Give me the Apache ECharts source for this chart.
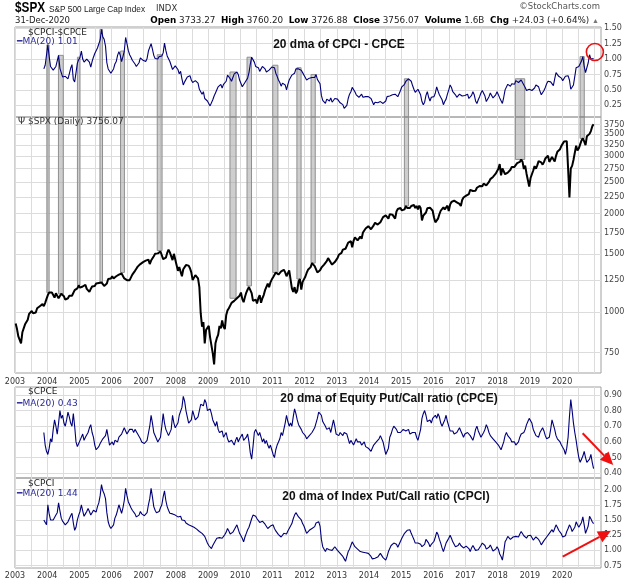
<!DOCTYPE html>
<html>
<head>
<meta charset="utf-8">
<script src="https://cdn.jsdelivr.net/npm/echarts@6/dist/echarts.min.js"></script>
<style>
html, body { margin: 0; padding: 0; background: #fff; }
#main { width: 640px; height: 584px; }
</style>
</head>
<body>
<div id="main"></div>
<script>
// readings taken twice a month (2nd and 4th week), off the picture
var firstYear = 2003;
var ratioOffset = 21; // put/call series start in late Nov 2003

// S&P 500, Jan 2003 .. Dec 2020
var spxValues = [
  920, 885, 840, 835, 800, 865, 875, 915, 925, 945, 985, 985, 1005, 990, 980, 995, 1025, 1020, 1040, 1035, 1055, 1040, 1065, 1095,
  1125, 1145, 1140, 1145, 1125, 1105, 1140, 1135, 1100, 1110, 1135, 1135, 1115, 1090, 1075, 1100, 1120, 1115, 1120, 1110, 1165, 1175, 1180, 1205,
  1185, 1170, 1195, 1200, 1210, 1175, 1180, 1150, 1175, 1195, 1195, 1200, 1220, 1235, 1225, 1210, 1230, 1220, 1200, 1185, 1220, 1260, 1260, 1265,
  1285, 1265, 1260, 1285, 1275, 1300, 1295, 1310, 1320, 1265, 1255, 1250, 1265, 1250, 1275, 1300, 1300, 1335, 1355, 1375, 1380, 1400, 1410, 1420,
  1410, 1435, 1450, 1445, 1400, 1435, 1445, 1480, 1505, 1510, 1510, 1500, 1530, 1540, 1450, 1470, 1465, 1515, 1550, 1520, 1500, 1440, 1505, 1490,
  1390, 1335, 1370, 1355, 1285, 1350, 1360, 1390, 1395, 1385, 1360, 1320, 1250, 1260, 1295, 1290, 1265, 1190, 990, 900, 930, 800, 880, 880,
  905, 835, 845, 745, 690, 800, 830, 850, 905, 890, 940, 900, 885, 975, 1010, 1025, 1020, 1065, 1060, 1080, 1070, 1100, 1100, 1120,
  1145, 1095, 1070, 1110, 1145, 1170, 1190, 1200, 1140, 1080, 1065, 1090, 1060, 1100, 1125, 1065, 1100, 1125, 1165, 1180, 1220, 1190, 1230, 1255,
  1275, 1290, 1320, 1320, 1300, 1295, 1330, 1335, 1345, 1320, 1285, 1285, 1340, 1340, 1180, 1150, 1190, 1140, 1160, 1240, 1260, 1170, 1235, 1250,
  1280, 1315, 1345, 1360, 1370, 1410, 1395, 1380, 1370, 1320, 1325, 1340, 1365, 1360, 1395, 1405, 1430, 1460, 1445, 1415, 1395, 1385, 1420, 1430,
  1460, 1495, 1510, 1515, 1550, 1555, 1560, 1575, 1630, 1650, 1645, 1575, 1650, 1690, 1700, 1655, 1670, 1700, 1675, 1750, 1770, 1800, 1800, 1830,
  1840, 1790, 1780, 1840, 1875, 1865, 1850, 1875, 1880, 1900, 1950, 1960, 1975, 1985, 1930, 1990, 2000, 1985, 1965, 1930, 2030, 2065, 2060, 2080,
  2045, 2050, 2060, 2110, 2080, 2090, 2080, 2110, 2105, 2125, 2080, 2110, 2060, 2115, 2080, 1905, 1970, 1950, 2015, 2075, 2100, 2085, 2065, 2040,
  1945, 1880, 1855, 1930, 1990, 2040, 2045, 2090, 2060, 2050, 2115, 2035, 2130, 2170, 2180, 2190, 2185, 2165, 2155, 2140, 2110, 2200, 2240, 2265,
  2270, 2275, 2295, 2365, 2365, 2345, 2355, 2350, 2400, 2415, 2430, 2435, 2425, 2470, 2475, 2440, 2465, 2500, 2550, 2565, 2590, 2600, 2650, 2685,
  2745, 2835, 2620, 2750, 2780, 2640, 2620, 2670, 2700, 2725, 2780, 2750, 2780, 2810, 2855, 2860, 2880, 2930, 2885, 2740, 2805, 2650, 2635, 2420,
  2570, 2640, 2710, 2795, 2745, 2810, 2895, 2935, 2870, 2825, 2875, 2950, 2980, 3010, 2880, 2850, 2980, 2985, 2890, 3005, 3095, 3110, 3150, 3225,
  3255, 3325, 3330, 3335, 2750, 2240, 2750, 2800, 2920, 2955, 3230, 3120, 3170, 3260, 3350, 3400, 3330, 3240, 3450, 3450, 3510, 3580, 3700, 3756
];

// 20 dma equity put/call (CPCE), late 2003 .. Dec 2020
var cpceValues = [
  0.66, 0.58, 0.54,
  0.52, 0.56, 0.62, 0.60, 0.68, 0.74, 0.70, 0.65, 0.72, 0.80, 0.75, 0.77, 0.72, 0.70, 0.74, 0.79, 0.76, 0.72, 0.70, 0.78, 0.70, 0.60, 0.57, 0.59,
  0.61, 0.62, 0.65, 0.61, 0.63, 0.64, 0.66, 0.69, 0.71, 0.66, 0.63, 0.58, 0.55, 0.54, 0.57, 0.59, 0.60, 0.62, 0.61, 0.64, 0.68, 0.63, 0.58, 0.59,
  0.60, 0.58, 0.61, 0.62, 0.60, 0.63, 0.62, 0.65, 0.66, 0.69, 0.67, 0.65, 0.66, 0.68, 0.67, 0.68, 0.66, 0.68, 0.67, 0.65, 0.64, 0.62, 0.60, 0.59,
  0.59, 0.60, 0.61, 0.62, 0.70, 0.77, 0.72, 0.66, 0.65, 0.62, 0.60, 0.60, 0.63, 0.70, 0.78, 0.72, 0.68, 0.67, 0.64, 0.65, 0.68, 0.77, 0.72, 0.69,
  0.69, 0.72, 0.77, 0.76, 0.82, 0.89, 0.86, 0.80, 0.76, 0.72, 0.71, 0.74, 0.80, 0.79, 0.74, 0.73, 0.76, 0.80, 0.84, 0.85, 0.83, 0.87, 0.85, 0.80,
  0.79, 0.81, 0.78, 0.74, 0.72, 0.70, 0.73, 0.68, 0.66, 0.65, 0.67, 0.63, 0.64, 0.66, 0.62, 0.60, 0.59, 0.61, 0.60, 0.58, 0.61, 0.63, 0.60, 0.62,
  0.62, 0.65, 0.61, 0.60, 0.63, 0.65, 0.60, 0.53, 0.49, 0.57, 0.66, 0.68, 0.66, 0.64, 0.66, 0.63, 0.60, 0.62, 0.59, 0.61, 0.58, 0.56, 0.58, 0.55,
  0.52, 0.50, 0.55, 0.58, 0.60, 0.62, 0.66, 0.64, 0.68, 0.72, 0.77, 0.73, 0.70, 0.72, 0.70, 0.76, 0.81, 0.78, 0.74, 0.71, 0.72, 0.68, 0.66, 0.65,
  0.64, 0.62, 0.63, 0.64, 0.63, 0.66, 0.65, 0.69, 0.70, 0.75, 0.79, 0.80, 0.77, 0.73, 0.72, 0.70, 0.68, 0.67, 0.69, 0.66, 0.70, 0.74, 0.70, 0.65,
  0.65, 0.64, 0.66, 0.66, 0.64, 0.66, 0.65, 0.65, 0.62, 0.59, 0.61, 0.60, 0.58, 0.59, 0.62, 0.60, 0.61, 0.60, 0.58, 0.59, 0.60, 0.57, 0.58, 0.56,
  0.56, 0.54, 0.55, 0.58, 0.57, 0.60, 0.60, 0.62, 0.64, 0.65, 0.60, 0.56, 0.52, 0.51, 0.56, 0.63, 0.65, 0.68, 0.70, 0.71, 0.68, 0.66, 0.67, 0.66,
  0.65, 0.68, 0.69, 0.67, 0.66, 0.68, 0.65, 0.64, 0.66, 0.67, 0.66, 0.63, 0.61, 0.62, 0.68, 0.75, 0.78, 0.80, 0.77, 0.73, 0.74, 0.74, 0.72, 0.75,
  0.76, 0.77, 0.75, 0.78, 0.76, 0.72, 0.70, 0.72, 0.74, 0.77, 0.73, 0.70, 0.67, 0.66, 0.67, 0.65, 0.64, 0.66, 0.67, 0.69, 0.67, 0.65, 0.63, 0.65,
  0.64, 0.66, 0.67, 0.64, 0.63, 0.61, 0.64, 0.68, 0.70, 0.67, 0.65, 0.63, 0.63, 0.66, 0.68, 0.71, 0.69, 0.66, 0.64, 0.63, 0.62, 0.61, 0.60, 0.59,
  0.58, 0.57, 0.55, 0.56, 0.60, 0.64, 0.66, 0.64, 0.63, 0.62, 0.60, 0.59, 0.60, 0.58, 0.57, 0.60, 0.63, 0.65, 0.64, 0.66, 0.68, 0.71, 0.73, 0.75,
  0.75, 0.72, 0.68, 0.66, 0.64, 0.63, 0.63, 0.66, 0.67, 0.69, 0.67, 0.64, 0.62, 0.61, 0.63, 0.68, 0.74, 0.73, 0.68, 0.64, 0.62, 0.61, 0.60, 0.58,
  0.57, 0.55, 0.52, 0.56, 0.63, 0.76, 0.87, 0.80, 0.72, 0.66, 0.61, 0.55, 0.50, 0.47, 0.49, 0.51, 0.54, 0.50, 0.47, 0.46, 0.49, 0.52, 0.47, 0.43
];

// 20 dma index put/call (CPCI), same dates
var cpciValues = [
  1.50, 1.48, 1.42,
  1.75, 1.60, 1.50, 1.47, 1.50, 1.53, 1.58, 1.62, 1.78, 1.65, 1.53, 1.48, 1.45, 1.42, 1.44, 1.47, 1.52, 1.57, 1.61, 1.45, 1.33, 1.38, 1.50, 1.58,
  1.64, 1.75, 1.65, 1.56, 1.60, 1.64, 1.69, 1.64, 1.58, 1.62, 1.66, 1.67, 1.63, 1.72, 1.78, 1.90, 2.08, 1.98, 1.93, 1.85, 1.62, 1.47, 1.40, 1.36,
  1.35, 1.42, 1.53, 1.58, 1.66, 1.75, 1.68, 1.61, 1.70, 1.82, 2.02, 1.90, 1.80, 1.75, 1.70, 1.66, 1.64, 1.60, 1.55, 1.53, 1.58, 1.64, 1.60, 1.57,
  1.57, 1.56, 1.62, 1.75, 1.85, 2.02, 1.88, 1.72, 1.66, 1.62, 1.60, 1.64, 1.70, 1.75, 1.88, 1.98, 1.82, 1.72, 1.66, 1.61, 1.63, 1.60, 1.57, 1.58,
  1.60, 1.55, 1.53, 1.56, 1.50, 1.47, 1.49, 1.45, 1.47, 1.42, 1.44, 1.40, 1.42, 1.38, 1.39, 1.35, 1.37, 1.31, 1.34, 1.28, 1.30, 1.23, 1.20, 1.12,
  1.08, 1.05, 1.03, 1.08, 1.12, 1.15, 1.20, 1.23, 1.21, 1.24, 1.20, 1.22, 1.26, 1.30, 1.36, 1.32, 1.27, 1.25, 1.30, 1.34, 1.38, 1.42, 1.35, 1.28,
  1.25, 1.20, 1.14, 1.22, 1.28, 1.34, 1.38, 1.45, 1.52, 1.58, 1.61, 1.56, 1.52, 1.50, 1.46, 1.44, 1.48, 1.47, 1.43, 1.40, 1.36, 1.38, 1.40, 1.42,
  1.42, 1.36, 1.32, 1.30, 1.26, 1.24, 1.22, 1.25, 1.28, 1.30, 1.27, 1.32, 1.36, 1.40, 1.44, 1.52, 1.58, 1.62, 1.60, 1.55, 1.58, 1.50, 1.44, 1.40,
  1.34, 1.28, 1.30, 1.33, 1.31, 1.36, 1.34, 1.39, 1.45, 1.42, 1.47, 1.40, 1.18, 1.06, 1.02, 0.98, 1.03, 1.05, 1.01, 1.03, 1.00, 1.02, 1.06, 1.03,
  1.00, 0.98, 0.95, 0.93, 0.90, 0.86, 0.82, 0.90, 0.98, 1.02, 1.08, 1.14, 1.10, 1.06, 1.04, 1.02, 0.99, 0.98, 1.01, 0.97, 0.99, 0.96, 0.98, 0.95,
  0.94, 0.90, 0.86, 0.84, 0.87, 0.90, 0.89, 0.92, 0.95, 0.93, 0.88, 0.85, 0.84, 0.90, 0.98, 1.03, 1.08, 1.10, 1.12, 1.14, 1.10, 1.05, 1.08, 1.15,
  1.20, 1.24, 1.28, 1.31, 1.33, 1.36, 1.34, 1.28, 1.23, 1.18, 1.12, 1.09, 1.12, 1.14, 1.10, 1.06, 1.04, 1.10, 1.18, 1.20, 1.12, 1.06, 1.10, 1.12,
  1.15, 1.22, 1.30, 1.26, 1.18, 1.12, 1.04, 0.98, 1.05, 1.12, 1.16, 1.20, 1.25, 1.20, 1.14, 1.10, 1.06, 1.04, 1.08, 1.12, 1.08, 1.05, 1.04, 1.06,
  1.07, 1.09, 1.03, 0.98, 1.04, 1.08, 1.06, 1.00, 0.98, 1.01, 1.04, 1.08, 1.12, 1.14, 1.08, 1.02, 1.01, 1.05, 1.09, 1.04, 0.99, 0.98, 1.02, 1.06,
  1.02, 0.94, 0.90, 0.84, 0.98, 1.14, 1.18, 1.23, 1.21, 1.18, 1.20, 1.22, 1.19, 1.23, 1.25, 1.22, 1.27, 1.31, 1.28, 1.24, 1.22, 1.20, 1.24, 1.26,
  1.25, 1.21, 1.17, 1.19, 1.22, 1.20, 1.18, 1.14, 1.09, 1.12, 1.16, 1.18, 1.22, 1.25, 1.28, 1.31, 1.34, 1.30, 1.36, 1.42, 1.38, 1.33, 1.31, 1.27,
  1.22, 1.20, 1.24, 1.31, 1.36, 1.42, 1.38, 1.31, 1.30, 1.38, 1.47, 1.42, 1.38, 1.36, 1.46, 1.55, 1.42, 1.28, 1.25, 1.40, 1.56, 1.52, 1.47, 1.44
];

// grey signal bands (decimal years)
var bandStarts = [2003.99, 2004.35, 2004.94, 2005.64, 2006.28, 2007.42, 2009.68, 2010.21, 2011.01, 2011.76, 2012.20, 2015.10, 2018.55, 2020.56];
var bandEnds   = [2004.06, 2004.50, 2005.02, 2005.72, 2006.40, 2007.57, 2009.87, 2010.35, 2011.17, 2011.89, 2012.33, 2015.23, 2018.84, 2020.69];

var yearLabels = [2003, 2004, 2005, 2006, 2007, 2008, 2009, 2010, 2011, 2012, 2013, 2014, 2015, 2016, 2017, 2018, 2019, 2020];
var diffTicks = [0.25, 0.5, 0.75, 1.0, 1.25, 1.5];
var spxTicks = [750, 1000, 1250, 1500, 1750, 2000, 2250, 2500, 2750, 3000, 3250, 3500, 3750];
var cpceTicks = [0.4, 0.5, 0.6, 0.7, 0.8, 0.9];
var cpciTicks = [0.75, 1.0, 1.25, 1.5, 1.75, 2.0];

var xMin = 2003, xMax = 2021.21;
var halfYears = [];
for (var h = xMin; h <= 2021; h += 0.5) halfYears.push(h);

function timeOf(i) { return firstYear + (i + 0.5) / 24; }

var spxData = spxValues.map(function (v, i) { return [timeOf(i), v]; });
var cpceData = cpceValues.map(function (v, i) { return [timeOf(i + ratioOffset), v]; });
var cpciData = cpciValues.map(function (v, i) { return [timeOf(i + ratioOffset), v]; });
// CPCI-CPCE: the MA of a difference is the difference of the MAs
var diffData = cpciValues.map(function (v, i) {
  return [timeOf(i + ratioOffset), +(v - cpceValues[i]).toFixed(2)];
});

var axisFont = 'DejaVu Sans';
var boldFont = "'Liberation Sans', Arial, sans-serif";
var gridColor = '#dcdcdc';
var navy = '#00007a';

var diffMin = 0.06, diffMax = 1.52;
var spxMin = 649, spxMax = 3954;
var cpceMin = 0.37, cpceMax = 0.95;
var cpciMin = 0.71, cpciMax = 2.19;

function inBand(data, s, e) {
  return data.filter(function (p) { return p[0] >= s - 0.03 && p[0] <= e + 0.03; })
             .map(function (p) { return p[1]; });
}

var diffBands = bandStarts.map(function (s, i) {
  var top = Math.max.apply(null, inBand(diffData, s, bandEnds[i]));
  return [{ xAxis: s, yAxis: top }, { xAxis: bandEnds[i], yAxis: diffMin }];
});
var spxBands = bandStarts.map(function (s, i) {
  var low = Math.max.apply(null, inBand(spxData, s, bandEnds[i]));
  return [{ xAxis: s, yAxis: spxMax }, { xAxis: bandEnds[i], yAxis: low }];
});

var bandStyle = { color: 'rgba(165,165,165,0.55)', borderColor: '#8f8f8f', borderWidth: 1 };

function makeX(idx, showLabels, margin) {
  return {
    type: 'value', gridIndex: idx, min: xMin, max: xMax,
    axisLine: { show: false },
    axisTick: { show: false, customValues: halfYears },
    axisLabel: {
      show: showLabels, customValues: yearLabels, margin: margin,
      fontFamily: axisFont, fontSize: 8, color: '#333',
      formatter: function (v) { return String(v); }
    },
    splitLine: { show: true, lineStyle: { color: gridColor, width: 1 } }
  };
}

function makeY(idx, type, min, max, ticks, digits) {
  return {
    type: type, gridIndex: idx, position: 'right', min: min, max: max,
    axisLine: { show: false },
    axisTick: { show: false, customValues: ticks },
    axisLabel: {
      customValues: ticks, margin: 3, padding: [0, 0, 3, 0],
      fontFamily: axisFont, fontSize: 8, color: '#444',
      formatter: function (v) { return (+v).toFixed(digits); }
    },
    splitLine: { show: true, lineStyle: { color: gridColor, width: 1 } }
  };
}

function legendText(x, y, text, color) {
  return { type: 'text', x: x, y: y, z: 50,
    style: { text: text, fontFamily: axisFont, fontSize: 9, fill: color, verticalAlign: 'middle' } };
}
function titleText(x, y, text) {
  return { type: 'text', x: x, y: y, z: 50, scaleX: 0.92,
    style: { text: text, font: 'bold 13px ' + boldFont, fill: '#111', align: 'center', verticalAlign: 'middle' } };
}

var myChart = echarts.init(document.getElementById('main'));

var option = {
  animation: false,
  backgroundColor: '#fff',
  grid: [
    { left: 15, right: 39, top: 27, height: 90, show: true, borderColor: '#a0a0a0', borderWidth: 1 },
    { left: 15, right: 39, top: 117, height: 256, show: true, borderColor: '#a0a0a0', borderWidth: 1 },
    { left: 15, right: 39, top: 387, height: 91, show: true, borderColor: '#a0a0a0', borderWidth: 1 },
    { left: 15, right: 39, top: 478, height: 90, show: true, borderColor: '#a0a0a0', borderWidth: 1 }
  ],
  xAxis: [makeX(0, false, 4), makeX(1, true, 5), makeX(2, false, 4), makeX(3, true, 4)],
  yAxis: [
    makeY(0, 'value', diffMin, diffMax, diffTicks, 2),
    makeY(1, 'log', spxMin, spxMax, spxTicks, 0),
    makeY(2, 'value', cpceMin, cpceMax, cpceTicks, 2),
    makeY(3, 'value', cpciMin, cpciMax, cpciTicks, 2)
  ],
  series: [
    {
      name: 'CPCI-CPCE', type: 'line', xAxisIndex: 0, yAxisIndex: 0, data: diffData,
      showSymbol: false, lineStyle: { color: navy, width: 1.1 },
      markArea: { silent: true, itemStyle: bandStyle, label: { show: false }, data: diffBands }
    },
    {
      name: 'SPX', type: 'line', xAxisIndex: 1, yAxisIndex: 1, data: spxData,
      showSymbol: false, lineStyle: { color: '#000', width: 2 },
      markArea: { silent: true, itemStyle: bandStyle, label: { show: false }, data: spxBands }
    },
    {
      name: 'CPCE', type: 'line', xAxisIndex: 2, yAxisIndex: 2, data: cpceData,
      showSymbol: false, lineStyle: { color: navy, width: 1.1 }
    },
    {
      name: 'CPCI', type: 'line', xAxisIndex: 3, yAxisIndex: 3, data: cpciData,
      showSymbol: false, lineStyle: { color: navy, width: 1.1 }
    }
  ],
  graphic: [
    { type: 'text', x: 15, y: 8, scaleX: 0.84, style: { text: '$SPX', font: 'bold 14px ' + boldFont, fill: '#000', verticalAlign: 'middle' } },
    { type: 'text', x: 49, y: 9, scaleX: 0.87, style: { text: 'S&P 500 Large Cap Index', fontFamily: 'Liberation Sans', fontSize: 9.5, fill: '#222', verticalAlign: 'middle' } },
    { type: 'text', x: 156, y: 9, style: { text: 'INDX', fontFamily: axisFont, fontSize: 8.5, fill: '#333', verticalAlign: 'middle' } },
    { type: 'text', x: 15, y: 21, style: { text: '31-Dec-2020', fontFamily: axisFont, fontSize: 8.5, fill: '#222', verticalAlign: 'middle' } },
    { type: 'text', x: 599, y: 21, style: {
        text: '{b|Open} 3733.27  {b|High} 3760.20  {b|Low} 3726.88  {b|Close} 3756.07  {b|Volume} 1.6B  {b|Chg} +24.03 (+0.64%) {s|▲}',
        fontFamily: axisFont, fontSize: 8.8, fill: '#222', align: 'right', verticalAlign: 'middle',
        rich: { b: { fontWeight: 'bold', fontFamily: axisFont, fontSize: 8.8, fill: '#000' }, s: { fontSize: 7, fill: '#777' } }
    } },
    { type: 'text', x: 600, y: 7, style: { text: '©StockCharts.com', fontFamily: axisFont, fontSize: 8.5, fill: '#555', align: 'right', verticalAlign: 'middle' } },
    legendText(28, 33, '$CPCI-$CPCE', '#222'),
    legendText(17, 42, '━MA(20) 1.01', '#2a2a9a'),
    titleText(339, 44, '20 dma of CPCI - CPCE'),
    legendText(18, 122, 'Ψ $SPX (Daily) 3756.07', '#333'),
    legendText(28, 392, '$CPCE', '#222'),
    legendText(17, 404, '━MA(20) 0.43', '#2a2a9a'),
    titleText(389, 398, '20 dma of Equity Put/Call ratio (CPCE)'),
    legendText(28, 484, '$CPCI', '#222'),
    legendText(17, 494, '━MA(20) 1.44', '#2a2a9a'),
    titleText(386, 496, '20 dma of Index Put/Call ratio (CPCI)')
  ]
};

myChart.setOption(option);

// red annotations, placed from data coordinates
function px(gridIndex, pt) { return myChart.convertToPixel({ gridIndex: gridIndex }, pt); }

function arrow(from, to) {
  var dx = to[0] - from[0], dy = to[1] - from[1];
  var len = Math.sqrt(dx * dx + dy * dy);
  var ux = dx / len, uy = dy / len;
  var headLen = 13, headW = 6;
  var bx = to[0] - ux * headLen, by = to[1] - uy * headLen;
  return [
    { type: 'line', z: 60, shape: { x1: from[0], y1: from[1], x2: bx, y2: by },
      style: { stroke: '#f01010', lineWidth: 2 } },
    { type: 'polygon', z: 60, shape: { points: [to, [bx - uy * headW, by + ux * headW], [bx + uy * headW, by - ux * headW]] },
      style: { fill: '#f01010' } }
  ];
}

var ring = px(0, [2021.02, 1.114]);
var extra = [
  { type: 'circle', z: 60, shape: { cx: ring[0], cy: ring[1], r: 8.5 }, style: { fill: 'none', stroke: '#e81010', lineWidth: 1.6 } }
].concat(
  arrow(px(2, [2020.64, 0.655]), px(2, [2021.59, 0.453])),
  arrow(px(3, [2020.02, 0.896]), px(3, [2021.52, 1.323]))
);

myChart.setOption({ graphic: option.graphic.concat(extra) });
</script>
</body>
</html>
